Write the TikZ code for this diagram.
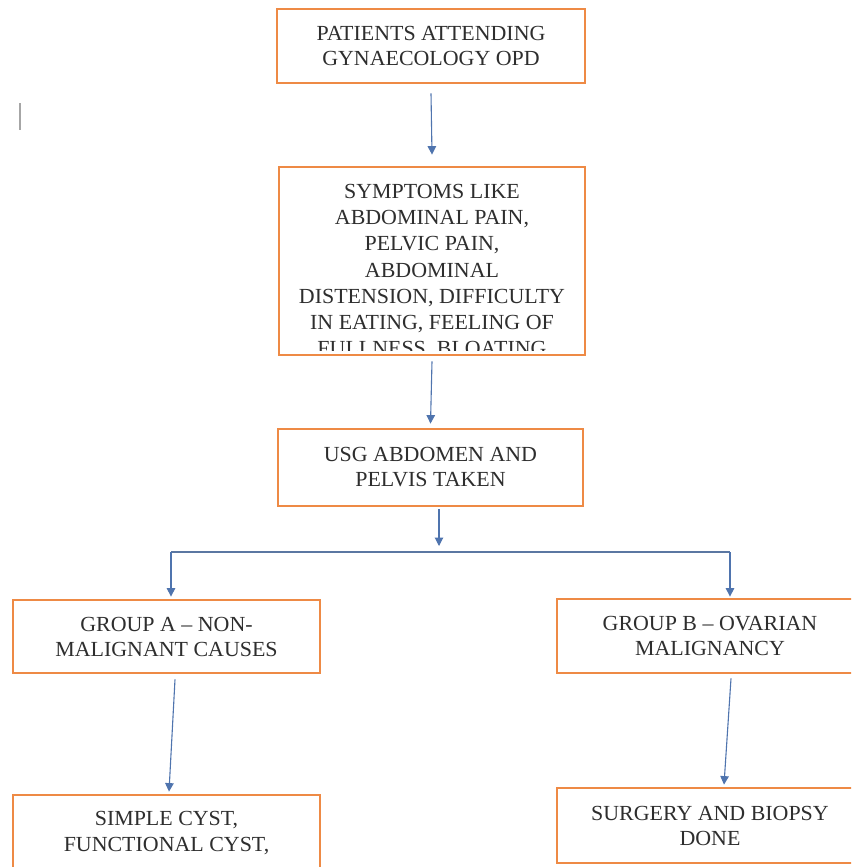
\documentclass[tikz,border=0pt]{standalone}
\usepackage{fontspec}
\setmainfont{Liberation Serif}[FakeStretch=1.02]
\usetikzlibrary{arrows.meta}
\definecolor{boxorange}{HTML}{EE8A45}
\definecolor{arrowblue}{HTML}{4F74AE}
\definecolor{txtgray}{HTML}{2E2E2E}
\tikzset{
  flowbox/.style={draw=boxorange, line width=2.8pt, fill=white, rectangle, inner sep=0pt,
    align=center, text=txtgray, font=\fontsize{21.5}{25}\selectfont},
  flowtext/.style={inner sep=0pt, align=center, text=txtgray, font=\fontsize{21.5}{26.2}\selectfont},
  flowarrow/.style={draw=arrowblue, line width=1.1pt, -{Triangle[length=8.5pt,width=8.5pt]}},
  flowline/.style={draw=arrowblue!75!gray, line width=1.1pt}
}
\begin{document}
\begin{tikzpicture}[x=1pt,y=-1pt]
\clip (0,0) rectangle (851,867);
\fill[white] (0,0) rectangle (851,867);
% stray cursor mark
\draw[gray!70, line width=1.3pt] (20,103) -- (20,130);
% boxes
\node[flowbox, minimum width=308pt, minimum height=74pt] (b1) at (431,46)
  {PATIENTS ATTENDING\\GYNAECOLOGY OPD};
\node[flowbox, minimum width=306pt, minimum height=188pt] (b2) at (432,261) {};
\begin{scope}
  \clip (282,170) rectangle (582,350);
  \node[flowtext, anchor=north] (b2t) at (432,184)
    {SYMPTOMS LIKE\\ABDOMINAL PAIN,\\PELVIC PAIN,\\ABDOMINAL\\DISTENSION, DIFFICULTY\\IN EATING, FEELING OF\\FULLNESS, BLOATING};
\end{scope}
\node[flowbox, minimum width=305pt, minimum height=77pt] (b3) at (430.5,467.5)
  {USG ABDOMEN AND\\PELVIS TAKEN};
\node[flowbox, minimum width=307pt, minimum height=73pt] (ba) at (166.5,636.5)
  {GROUP A -- NON-\\MALIGNANT CAUSES};
\node[flowbox, minimum width=306pt, minimum height=74pt] (bb) at (710,636)
  {GROUP B -- OVARIAN\\MALIGNANCY};
\node[flowbox, minimum width=307pt, minimum height=110pt] (bc) at (166.5,850) {};
\node[flowtext, anchor=north] (bct) at (166.5,811)
  {SIMPLE CYST,\\FUNCTIONAL CYST,};
\node[flowbox, minimum width=306pt, minimum height=75pt] (bd) at (710,825.5)
  {SURGERY AND BIOPSY\\DONE};
% connectors
\draw[flowarrow] ([yshift=-9pt]b1.south) -- ([yshift=11pt]b2.north);
\draw[flowarrow] ([yshift=-5pt]b2.south) -- ([yshift=4pt]b3.north);
\coordinate (split) at (439,552);
\coordinate (splitL) at (171,552);
\coordinate (splitR) at (730,552);
\draw[flowarrow] ([xshift=8.5pt,yshift=-2pt]b3.south) -- ([yshift=6pt]split);
\draw[flowline] (splitL) -- (splitR);
\draw[flowarrow] (splitL) -- ([xshift=4.5pt,yshift=2pt]ba.north);
\draw[flowarrow] (splitR) -- ([xshift=20pt,yshift=1pt]bb.north);
\draw[flowarrow] ([xshift=8.5pt,yshift=-5pt]ba.south) -- ([xshift=2.5pt,yshift=2pt]bc.north);
\draw[flowarrow] ([xshift=21pt,yshift=-4pt]bb.south) -- ([xshift=14pt,yshift=2pt]bd.north);
\end{tikzpicture}
\end{document}
